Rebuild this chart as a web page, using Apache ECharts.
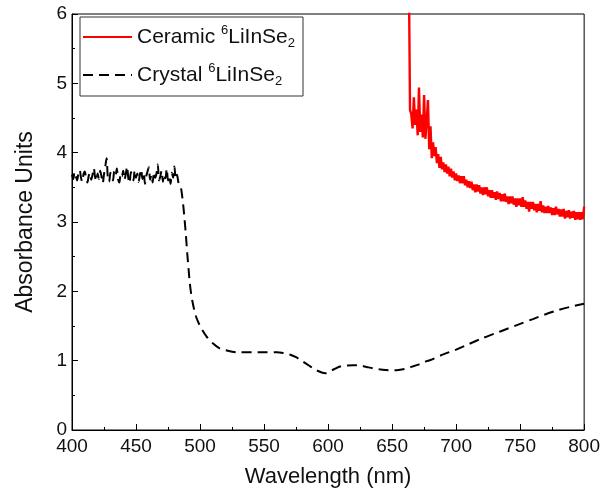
<!DOCTYPE html>
<html>
<head>
<meta charset="utf-8">
<title>Absorbance</title>
<script src="https://cdn.jsdelivr.net/npm/echarts@6/dist/echarts.min.js"></script>
<style>
  html, body { margin: 0; padding: 0; background: #fff; }
  #chart { width: 603px; height: 494px; }
</style>
</head>
<body>
<div id="chart"></div>
<script>
// crystal: noisy plateau 400-484 nm, 1 nm step
var crystalNoisyStart = 400;
var crystalNoisy = [
  3.68, 3.62, 3.72, 3.66, 3.60, 3.70, 3.75, 3.64, 3.58, 3.69,
  3.73, 3.63, 3.57, 3.66, 3.71, 3.61, 3.68, 3.78, 3.65, 3.59,
  3.70, 3.62, 3.74, 3.66, 3.56, 3.69, 3.80, 3.92, 3.64, 3.58,
  3.71, 3.65, 3.60, 3.73, 3.67, 3.77, 3.62, 3.57, 3.70, 3.66,
  3.74, 3.61, 3.69, 3.80, 3.63, 3.56, 3.72, 3.67, 3.60, 3.75,
  3.64, 3.70, 3.58, 3.68, 3.76, 3.62, 3.71, 3.55, 3.66, 3.73,
  3.79, 3.61, 3.68, 3.57, 3.72, 3.64, 3.70, 3.83, 3.60, 3.66,
  3.74, 3.58, 3.69, 3.63, 3.77, 3.60, 3.67, 3.55, 3.71, 3.64,
  3.80, 3.62, 3.68, 3.58, 3.52
];
// crystal: smooth part
var crystalWl = [485, 486, 487, 488, 489, 490, 491, 492, 493, 494, 495, 496, 497, 498, 499,
  500, 505, 510, 515, 520, 525, 530, 540, 550, 560, 565, 570, 575, 580, 585, 590, 595, 598,
  600, 605, 610, 615, 620, 625, 630, 635, 640, 645, 650, 655, 660, 665, 670, 675, 680,
  690, 700, 710, 720, 730, 740, 750, 760, 770, 780, 790, 800];
var crystalAbs = [3.50, 3.38, 3.22, 3.02, 2.80, 2.55, 2.33, 2.12, 1.97, 1.86, 1.77, 1.69, 1.63, 1.58, 1.54,
  1.50, 1.35, 1.25, 1.18, 1.15, 1.13, 1.12, 1.12, 1.12, 1.12, 1.11, 1.09, 1.05, 0.99, 0.93, 0.87, 0.83, 0.82,
  0.83, 0.88, 0.92, 0.93, 0.935, 0.93, 0.91, 0.89, 0.875, 0.865, 0.86, 0.865, 0.88, 0.91, 0.94, 0.98, 1.01,
  1.09, 1.16, 1.24, 1.32, 1.39, 1.46, 1.53, 1.60, 1.67, 1.73, 1.78, 1.82];

// ceramic: 663-800 nm, 1 nm step (first point is the clipped spike)
var ceramicStart = 663;
var ceramicAbs = [
  6.80,
  4.62, 4.55, 4.35, 4.80, 4.40, 4.62, 4.25, 4.94, 4.30, 4.55,
  4.22, 4.83, 4.20, 4.45, 4.76, 4.05, 4.38, 3.92, 4.15, 3.95,
  4.08, 3.85, 3.98, 3.78, 3.94, 3.76, 3.86, 3.72, 3.83, 3.70,
  3.80, 3.66, 3.77, 3.64, 3.73, 3.60,
  3.70, 3.59, 3.67, 3.56, 3.66, 3.56, 3.66, 3.53, 3.61, 3.50,
  3.59, 3.49, 3.58, 3.46, 3.54, 3.43, 3.54, 3.44, 3.53, 3.41,
  3.50, 3.39, 3.50, 3.40, 3.50, 3.37, 3.46, 3.35, 3.46, 3.35,
  3.43, 3.32, 3.44, 3.33, 3.42, 3.30, 3.40, 3.30, 3.41, 3.29,
  3.37, 3.26, 3.37, 3.27, 3.37, 3.25, 3.34, 3.22, 3.34, 3.24,
  3.34, 3.22, 3.36, 3.22, 3.31, 3.19, 3.29, 3.15, 3.29, 3.19,
  3.29, 3.17, 3.26, 3.14, 3.26, 3.16, 3.30, 3.14, 3.24, 3.13,
  3.22, 3.13, 3.23, 3.13, 3.21, 3.10, 3.20, 3.10, 3.22, 3.11,
  3.19, 3.08, 3.18, 3.08, 3.19, 3.05, 3.16, 3.07, 3.17, 3.05,
  3.15, 3.06, 3.16, 3.03, 3.14, 3.04, 3.14, 3.03, 3.14, 3.04,
  3.22
];

var xTicks = { min: 400, max: 800, interval: 50 };
var yTicks = { min: 0, max: 6, interval: 1 };

var crystalData = [];
crystalNoisy.forEach(function (v, i) { crystalData.push([crystalNoisyStart + i, v]); });
crystalWl.forEach(function (w, i) { crystalData.push([w, crystalAbs[i]]); });

var ceramicData = ceramicAbs.map(function (v, i) { return [ceramicStart + i, v]; });

var font = '"Liberation Sans", Arial, sans-serif';

var chart = echarts.init(document.getElementById('chart'), null, { renderer: 'canvas' });

var axisCommon = {
  axisLine: { show: true, onZero: false, lineStyle: { color: '#000', width: 1 } },
  axisTick: { show: true, inside: true, length: 6, lineStyle: { color: '#000' } },
  minorTick: { show: true, splitNumber: 2, length: 3, lineStyle: { color: '#000' } },
  splitLine: { show: false },
  axisLabel: { color: '#111', fontSize: 19, fontFamily: font }
};

chart.setOption({
  animation: false,
  backgroundColor: '#fff',
  grid: { left: 72, right: 16, top: 14, bottom: 64, show: true, borderColor: '#000', borderWidth: 1 },
  legend: {
    orient: 'vertical',
    left: 80, top: 17,
    borderColor: '#333', borderWidth: 1,
    padding: [7, 8, 8, 2],
    itemWidth: 49, itemHeight: 14, itemGap: 12,
    itemStyle: { opacity: 0 },
    data: ['ceramic', 'crystal'],
    formatter: function (name) {
      return name === 'ceramic'
        ? 'Ceramic {sup|6}LiInSe{sub|2}'
        : 'Crystal {sup|6}LiInSe{sub|2}';
    },
    textStyle: {
      fontSize: 21, fontFamily: font, color: '#111',
      rich: {
        sup: { fontSize: 13, fontFamily: font, color: '#111', padding: [0, 0, 13, 0] },
        sub: { fontSize: 13, fontFamily: font, color: '#111', padding: [13, 0, 0, 0] }
      }
    }
  },
  xAxis: Object.assign({}, axisCommon, {
    type: 'value', min: xTicks.min, max: xTicks.max, interval: xTicks.interval,
    name: 'Wavelength (nm)', nameLocation: 'middle', nameGap: 36,
    nameTextStyle: { fontSize: 22, fontFamily: font, color: '#111' },
    axisLabel: Object.assign({}, axisCommon.axisLabel, { margin: 7 })
  }),
  yAxis: Object.assign({}, axisCommon, {
    type: 'value', min: yTicks.min, max: yTicks.max, interval: yTicks.interval,
    name: 'Absorbance Units', nameLocation: 'middle', nameGap: 35,
    nameTextStyle: { fontSize: 23, fontFamily: font, color: '#111' },
    axisLabel: Object.assign({}, axisCommon.axisLabel, { margin: 5 })
  }),
  series: [
    {
      name: 'ceramic', type: 'line', data: ceramicData,
      symbol: 'none', clip: true,
      lineStyle: { color: '#ff0000', width: 2.4 },
      itemStyle: { color: '#ff0000' }
    },
    {
      name: 'crystal', type: 'line', data: crystalData,
      symbol: 'none', clip: true, smooth: 0.3,
      lineStyle: { color: '#000', width: 2, type: [10, 6] },
      itemStyle: { color: '#000' }
    }
  ]
});
</script>
</body>
</html>
